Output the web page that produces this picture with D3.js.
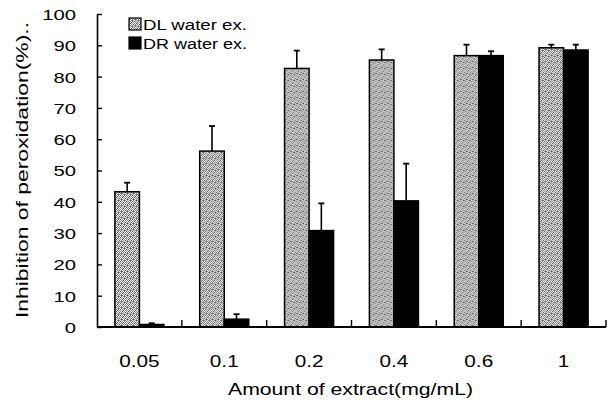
<!DOCTYPE html>
<html>
<head>
<meta charset="utf-8">
<script src="https://cdn.jsdelivr.net/npm/d3@7/dist/d3.min.js"></script>
<style>
  html, body { margin: 0; padding: 0; background: #fff; }
  svg { display: block; }
  text { font-family: "Liberation Sans", Arial, sans-serif; fill: #000; }
</style>
</head>
<body>
<svg id="chart" width="614" height="403"></svg>
<script>
// Lipid peroxidation inhibition by extract concentration
const categories = ["0.05", "0.1", "0.2", "0.4", "0.6", "1"];
const seriesNames = ["DL water ex.", "DR water ex."];
const dlValues = [43.2, 56.2, 82.6, 85.3, 86.7, 89.2];
const dlErrors = [2.9, 8.0, 5.7, 3.4, 3.5, 1.0];
const drValues = [0.8, 2.5, 30.8, 40.3, 86.7, 88.5];
const drErrors = [0.4, 1.6, 8.7, 11.9, 1.4, 1.7];
const yTicks = [0, 10, 20, 30, 40, 50, 60, 70, 80, 90, 100];
const xTitle = "Amount of extract(mg/mL)";
const yTitle = "Inhibition of peroxidation(%)..";

const svg = d3.select("#chart");
const plotLeft = 97, plotRight = 606, plotTop = 14, plotBottom = 327;

// Halftone grey fill for the DL series: checkerboard dither with a few dark specks
const defs = svg.append("defs");
const tile = 6;
const pat = defs.append("pattern")
  .attr("id", "stipple").attr("patternUnits", "userSpaceOnUse")
  .attr("width", tile).attr("height", tile);
pat.append("rect").attr("width", tile).attr("height", tile).attr("fill", "#eeeeee");
for (let py = 0; py < tile; py++) {
  for (let px = 0; px < tile; px++) {
    if ((px + py) % 2 === 0) {
      pat.append("rect").attr("x", px).attr("y", py).attr("width", 1).attr("height", 1)
        .attr("fill", "#8f8f8f");
    }
  }
}
const specks = [[0, 1], [4, 0], [2, 4], [5, 3], [1, 5], [3, 2]];
specks.forEach(([px, py]) => pat.append("rect").attr("x", px).attr("y", py)
  .attr("width", 1).attr("height", 1).attr("fill", "#4a4a4a"));

const fills = ["url(#stipple)", "#000"];

const x0 = d3.scaleBand().domain(categories).range([plotLeft, plotRight]).padding(0);
const x1 = d3.scaleBand().domain(seriesNames).range([0, x0.bandwidth()])
  .paddingInner(0).paddingOuter(0.73);
const y = d3.scaleLinear().domain([0, 100]).range([plotBottom, plotTop]);

const rows = categories.map((c, i) => ({
  cat: c,
  items: [
    { s: seriesNames[0], v: dlValues[i], e: dlErrors[i] },
    { s: seriesNames[1], v: drValues[i], e: drErrors[i] }
  ]
}));

// Bars
const groups = svg.append("g").selectAll("g").data(rows).join("g")
  .attr("transform", d => `translate(${x0(d.cat)},0)`);

groups.selectAll("rect").data(d => d.items).join("rect")
  .attr("x", d => x1(d.s))
  .attr("y", d => y(d.v))
  .attr("width", x1.bandwidth())
  .attr("height", d => y(0) - y(d.v))
  .attr("fill", (d, i) => fills[i])
  .attr("stroke", "#000").attr("stroke-width", 1.5);

// Error bars (upper only)
const eb = groups.selectAll("g.err").data(d => d.items).join("g").attr("class", "err");
eb.append("line")
  .attr("x1", d => x1(d.s) + x1.bandwidth() / 2)
  .attr("x2", d => x1(d.s) + x1.bandwidth() / 2)
  .attr("y1", d => y(d.v)).attr("y2", d => y(d.v + d.e))
  .attr("stroke", "#000").attr("stroke-width", 1.6);
eb.append("line")
  .attr("x1", d => x1(d.s) + x1.bandwidth() / 2 - 3)
  .attr("x2", d => x1(d.s) + x1.bandwidth() / 2 + 3)
  .attr("y1", d => y(d.v + d.e)).attr("y2", d => y(d.v + d.e))
  .attr("stroke", "#000").attr("stroke-width", 1.8);

// Y axis: ticks pointing inward
const yAxis = svg.append("g").attr("transform", `translate(${plotLeft},0)`)
  .call(d3.axisLeft(y).tickValues(yTicks).tickSizeInner(-5).tickSizeOuter(0).tickPadding(0));
yAxis.select(".domain").attr("stroke", "#000").attr("stroke-width", 1.6);
yAxis.selectAll(".tick line").attr("stroke", "#000").attr("stroke-width", 1.4);
yAxis.selectAll(".tick text")
  .attr("x", 0).attr("dy", "0.36em")
  .attr("text-anchor", "end")
  .attr("transform", "translate(-21,0) scale(1.35,1)")
  .style("font-size", "15px").style("font-family", "Liberation Sans, Arial, sans-serif");

// X axis baseline with upward ticks at group boundaries
const xAxis = svg.append("g");
xAxis.append("line").attr("x1", plotLeft).attr("x2", plotRight)
  .attr("y1", plotBottom).attr("y2", plotBottom)
  .attr("stroke", "#000").attr("stroke-width", 1.8);
xAxis.selectAll("line.tk").data(categories).join("line").attr("class", "tk")
  .attr("x1", d => x0(d) + x0.bandwidth()).attr("x2", d => x0(d) + x0.bandwidth())
  .attr("y1", plotBottom).attr("y2", plotBottom - 7)
  .attr("stroke", "#000").attr("stroke-width", 1.4);
xAxis.selectAll("text").data(categories).join("text")
  .attr("text-anchor", "middle")
  .attr("transform", d => `translate(${x0(d) + x0.bandwidth() / 2},${plotBottom + 40}) scale(1.22,1)`)
  .style("font-size", "17px")
  .text(d => d);

// Axis titles
svg.append("text")
  .attr("text-anchor", "middle")
  .attr("x", 350.5).attr("y", 395)
  .attr("textLength", 245).attr("lengthAdjust", "spacingAndGlyphs")
  .style("font-size", "17px")
  .text(xTitle);

svg.append("text")
  .attr("text-anchor", "middle")
  .attr("transform", "translate(28,170) rotate(-90)")
  .attr("textLength", 296).attr("lengthAdjust", "spacingAndGlyphs")
  .style("font-size", "16.5px")
  .text(yTitle);

// Legend
const legend = svg.append("g").selectAll("g").data(seriesNames).join("g")
  .attr("transform", (d, i) => `translate(129,${18 + i * 19})`);
legend.append("rect")
  .attr("width", 12).attr("height", 12)
  .attr("fill", (d, i) => fills[i])
  .attr("stroke", "#000").attr("stroke-width", 1.2);
legend.append("text")
  .attr("x", 14).attr("y", 11.5)
  .attr("textLength", 104).attr("lengthAdjust", "spacingAndGlyphs")
  .style("font-size", "15.5px")
  .text(d => d);
</script>
</body>
</html>
